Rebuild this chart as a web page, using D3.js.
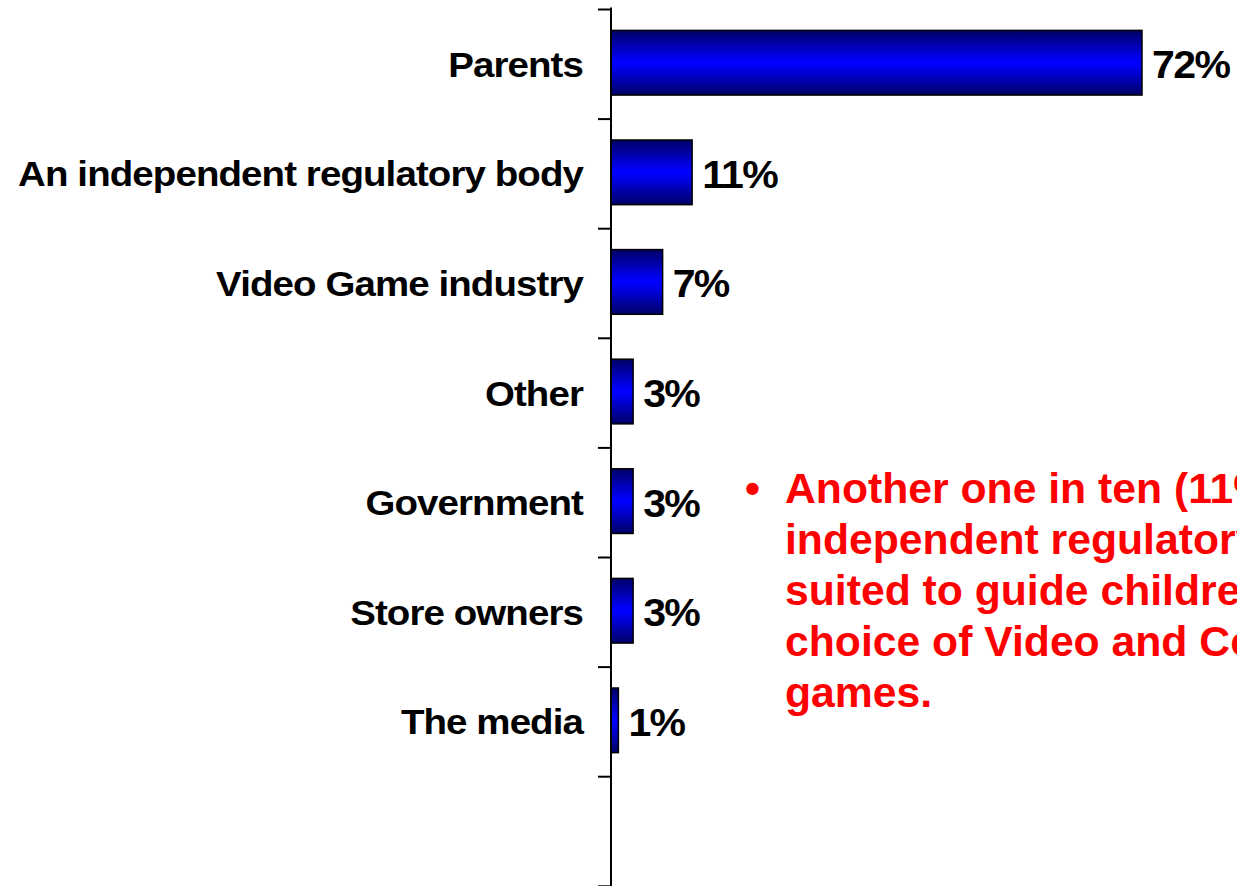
<!DOCTYPE html>
<html>
<head>
<meta charset="utf-8">
<script src="https://cdn.jsdelivr.net/npm/d3@7"></script>
<style>
  html, body { margin: 0; padding: 0; background: #fff; overflow: hidden; }
  svg { display: block; }
</style>
</head>
<body>
<svg id="chart" width="1237" height="886"></svg>
<script>
// Who is best suited to guide children's choice of games
const categories = ["Parents", "An independent regulatory body", "Video Game industry",
                    "Other", "Government", "Store owners", "The media"];
const values = [72, 11, 7, 3, 3, 3, 1];
// trailing empty slot at the bottom of the category axis
const slots = categories.concat([""]);

const noteLines = [
  "Another one in ten (11%) say an",
  "independent regulatory body is best",
  "suited to guide children's",
  "choice of Video and Computer",
  "games."
];

const svg = d3.select("#chart");
const W = 1237, H = 886;
const axisX = 611;

const y = d3.scaleBand().domain(slots).range([9.5, 886.3])
  .paddingInner(0.41).paddingOuter(0.205).align(0.465);
const x = d3.scaleLinear().domain([0, 72]).range([axisX, 1142]);

// vertical bar shading: dark edges, bright centre
const defs = svg.append("defs");
const grad = defs.append("linearGradient").attr("id", "barShade")
  .attr("x1", 0).attr("y1", 0).attr("x2", 0).attr("y2", 1);
grad.append("stop").attr("offset", "0%").attr("stop-color", "#000066");
grad.append("stop").attr("offset", "48%").attr("stop-color", "#0000ff");
grad.append("stop").attr("offset", "52%").attr("stop-color", "#0000ff");
grad.append("stop").attr("offset", "100%").attr("stop-color", "#000066");

// bars
svg.append("g").selectAll("rect").data(categories).join("rect")
  .attr("x", axisX)
  .attr("y", (d) => y(d))
  .attr("width", (d, i) => x(values[i]) - axisX)
  .attr("height", y.bandwidth())
  .attr("fill", "url(#barShade)")
  .attr("stroke", "#000")
  .attr("stroke-width", 1.5);

// category axis with ticks between categories
const step = y.step();
const bounds = d3.range(slots.length + 1).map((i) => y.range()[0] + i * step);
const axisG = svg.append("g");
axisG.append("line")
  .attr("x1", axisX).attr("x2", axisX)
  .attr("y1", bounds[0] - 2).attr("y2", H)
  .attr("stroke", "#000").attr("stroke-width", 2);
axisG.selectAll("line.tick").data(bounds).join("line").attr("class", "tick")
  .attr("x1", axisX - 13).attr("x2", axisX)
  .attr("y1", (d) => d).attr("y2", (d) => d)
  .attr("stroke", "#000").attr("stroke-width", 2);

// category labels (wide, tightly set bold face)
const labelFont = "'Liberation Sans', Arial, Helvetica, sans-serif";
const mid = (d) => y(d) + y.bandwidth() / 2;
svg.append("g").selectAll("text").data(categories).join("text")
  .attr("transform", (d) => `translate(583,${mid(d) + 14}) scale(1.115,1)`)
  .attr("text-anchor", "end")
  .attr("font-family", labelFont)
  .attr("font-weight", "bold")
  .attr("font-size", 34.5)
  .attr("letter-spacing", -0.8)
  .attr("fill", "#000")
  .text((d) => d);

// value labels
svg.append("g").selectAll("text").data(categories).join("text")
  .attr("transform", (d, i) => `translate(${x(values[i]) + 10},${mid(d) + 15.5}) scale(1.08,1)`)
  .attr("font-family", labelFont)
  .attr("font-weight", "bold")
  .attr("font-size", 38)
  .attr("letter-spacing", -1.5)
  .attr("fill", "#000")
  .text((d, i) => values[i] + "%");

// bulleted note
const note = svg.append("g").attr("fill", "#ff0000")
  .attr("font-family", labelFont).attr("font-weight", "bold").attr("font-size", 42.7);
note.append("text").attr("x", 745).attr("y", 503).text("\u2022");
note.selectAll("text.line").data(noteLines).join("text").attr("class", "line")
  .attr("x", 785)
  .attr("y", (d, i) => 503 + i * 51)
  .text((d) => d);
</script>
</body>
</html>
